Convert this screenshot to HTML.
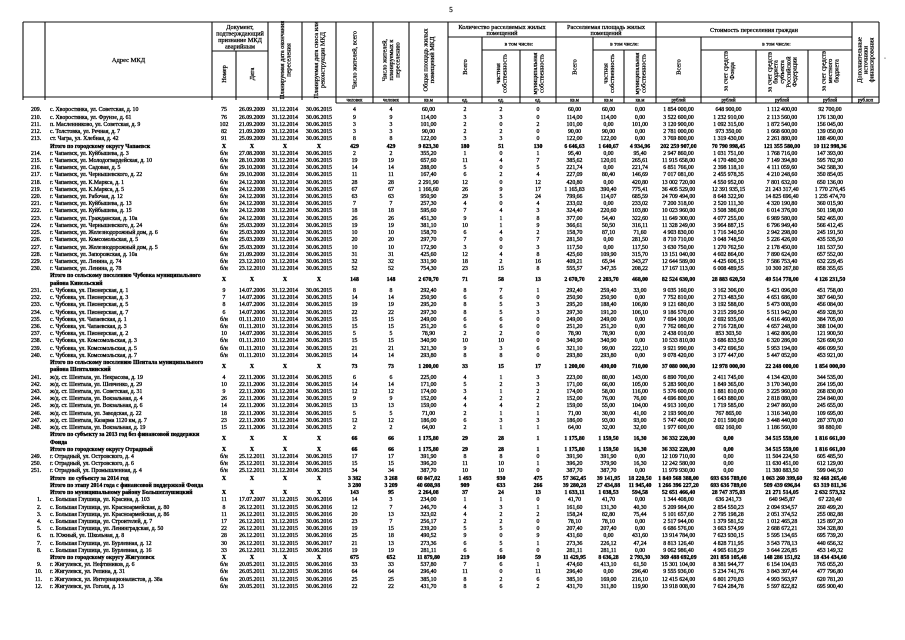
<!DOCTYPE html>
<html><head><meta charset="utf-8">
<style>
html,body{margin:0;padding:0;background:#fff;}
body{width:905px;height:640px;overflow:hidden;position:relative;font-family:"Liberation Serif",serif;color:#000;}
svg{position:absolute;left:0;top:0;}
.r{position:absolute;left:23px;height:7.22px;display:flex;align-items:center;line-height:7.22px;font-size:5.8px;white-space:nowrap;-webkit-text-stroke:0.3px #000;}
.r i{font-style:normal;display:block;flex:none;text-align:center;overflow:visible;}
.r i:nth-child(1){width:22px;text-align:left;padding-left:8px;box-sizing:border-box}
.r i:nth-child(2){width:167px;text-align:left;padding-left:5px;box-sizing:border-box}
.r i:nth-child(3){width:24px}
.r i:nth-child(4){width:32px}
.r i:nth-child(5){width:34px}
.r i:nth-child(6){width:34px}
.r i:nth-child(7){width:37px}
.r i:nth-child(8){width:36px}
.r i:nth-child(9){width:39px}
.r i:nth-child(10){width:34px}
.r i:nth-child(11){width:38px}
.r i:nth-child(12){width:36px}
.r i:nth-child(13){width:37px}
.r i:nth-child(14){width:31px}
.r i:nth-child(15){width:32px}
.r i:nth-child(16){width:45px}
.r i:nth-child(17){width:55px}
.r i:nth-child(18){width:52px}
.r i:nth-child(19){width:44px}
.b{font-weight:bold}
.t2{height:14.44px}
.n2 i:nth-child(1){padding-left:14px}
</style></head><body>
<svg width="905" height="640" viewBox="0 0 905 640" xmlns="http://www.w3.org/2000/svg">
<g stroke="#111" stroke-width="1.1" fill="none">
<line x1="23" y1="22" x2="879" y2="22"/>
<line x1="23" y1="97" x2="879" y2="97"/>
<line x1="336" y1="103" x2="879" y2="103"/>
<line x1="212" y1="51" x2="268" y2="51"/>
<line x1="448" y1="37" x2="852" y2="37"/>
<line x1="482" y1="50" x2="556" y2="50"/>
<line x1="593" y1="50" x2="656" y2="50"/>
<line x1="701" y1="50" x2="852" y2="50"/>
<line x1="23" y1="22" x2="23" y2="100"/>
<line x1="45" y1="22" x2="45" y2="100"/>
<line x1="212" y1="22" x2="212" y2="100"/>
<line x1="236" y1="51" x2="236" y2="100"/>
<line x1="268" y1="22" x2="268" y2="100"/>
<line x1="302" y1="22" x2="302" y2="100"/>
<line x1="336" y1="22" x2="336" y2="103"/>
<line x1="373" y1="22" x2="373" y2="103"/>
<line x1="409" y1="22" x2="409" y2="103"/>
<line x1="448" y1="22" x2="448" y2="103"/>
<line x1="482" y1="37" x2="482" y2="103"/>
<line x1="520" y1="50" x2="520" y2="103"/>
<line x1="556" y1="22" x2="556" y2="103"/>
<line x1="593" y1="37" x2="593" y2="103"/>
<line x1="624" y1="50" x2="624" y2="103"/>
<line x1="656" y1="22" x2="656" y2="103"/>
<line x1="701" y1="37" x2="701" y2="103"/>
<line x1="756" y1="50" x2="756" y2="103"/>
<line x1="808" y1="50" x2="808" y2="103"/>
<line x1="852" y1="22" x2="852" y2="103"/>
<line x1="879" y1="22" x2="879" y2="103"/>
</g>
<g font-family="Liberation Serif, serif" font-size="6.3" fill="#000" text-anchor="middle" stroke="#000" stroke-width="0.25">
<text x="451" y="12" font-size="7">5</text>
<text x="128.5" y="62" font-size="6.5">Адрес МКД</text>
<text x="240" y="29">Документ,</text>
<text x="240" y="35.5">подтверждающий</text>
<text x="240" y="42">признание МКД</text>
<text x="240" y="48.5">аварийным</text>
<text transform="translate(226,74) rotate(-90)">Номер</text>
<text transform="translate(254,74) rotate(-90)">Дата</text>
<text transform="translate(283.75,60) rotate(-90)">Планируемая дата окончания</text>
<text transform="translate(290.25,60) rotate(-90)">переселения</text>
<text transform="translate(317.75,60) rotate(-90)">Планируемая дата сноса или</text>
<text transform="translate(324.25,60) rotate(-90)">реконструкции МКД</text>
<text transform="translate(356.5,60) rotate(-90)">Число жителей, всего</text>
<text transform="translate(386.5,60) rotate(-90)">Число жителей,</text>
<text transform="translate(393,60) rotate(-90)">планируемых к</text>
<text transform="translate(399.5,60) rotate(-90)">переселению</text>
<text transform="translate(427.25,60) rotate(-90)">Общая площадь жилых</text>
<text transform="translate(433.75,60) rotate(-90)">помещений МКД</text>
<text x="502" y="29">Количество расселяемых жилых</text>
<text x="502" y="35">помещений</text>
<text transform="translate(467,67) rotate(-90)">Всего</text>
<text x="519" y="45.5" font-size="5.5">в том числе:</text>
<text transform="translate(499.75,73.5) rotate(-90)">частная</text>
<text transform="translate(506.25,73.5) rotate(-90)">собственность</text>
<text transform="translate(536.75,73.5) rotate(-90)">муниципальная</text>
<text transform="translate(543.25,73.5) rotate(-90)">собственность</text>
<text x="606" y="29">Расселяемая площадь жилых</text>
<text x="606" y="35">помещений</text>
<text transform="translate(576.5,67) rotate(-90)">Всего</text>
<text x="624.5" y="45.5" font-size="5.5">в том числе:</text>
<text transform="translate(607.25,73.5) rotate(-90)">частная</text>
<text transform="translate(613.75,73.5) rotate(-90)">собственность</text>
<text transform="translate(638.75,73.5) rotate(-90)">муниципальная</text>
<text transform="translate(645.25,73.5) rotate(-90)">собственность</text>
<text x="754" y="32">Стоимость переселения граждан</text>
<text transform="translate(680.5,67) rotate(-90)">Всего</text>
<text x="776.5" y="45.5" font-size="5.5">в том числе:</text>
<text transform="translate(727.25,71) rotate(-90)">за счет средств</text>
<text transform="translate(733.75,71) rotate(-90)">Фонда</text>
<text transform="translate(771.4,72) rotate(-90)">за счет средств</text>
<text transform="translate(777.7,72) rotate(-90)">бюджета</text>
<text transform="translate(784,72) rotate(-90)">субъекта</text>
<text transform="translate(790.3,72) rotate(-90)">Российской</text>
<text transform="translate(796.6,72) rotate(-90)">Федерации</text>
<text transform="translate(825.5,71) rotate(-90)">за счет средств</text>
<text transform="translate(832,71) rotate(-90)">местного</text>
<text transform="translate(838.5,71) rotate(-90)">бюджета</text>
<text transform="translate(861.5,60) rotate(-90)">Дополнительные</text>
<text transform="translate(867.5,60) rotate(-90)">источники</text>
<text transform="translate(873.5,60) rotate(-90)">финансирования</text>
<g font-size="4.8">
<text x="354.5" y="101.6">человек</text>
<text x="391" y="101.6">человек</text>
<text x="428.5" y="101.6">кв.м</text>
<text x="465" y="101.6">ед.</text>
<text x="501" y="101.6">ед.</text>
<text x="538" y="101.6">ед.</text>
<text x="574.5" y="101.6">кв.м</text>
<text x="608.5" y="101.6">кв.м</text>
<text x="640" y="101.6">кв.м</text>
<text x="678.5" y="101.6">рублей</text>
<text x="728.5" y="101.6">рублей</text>
<text x="782" y="101.6">рублей</text>
<text x="830" y="101.6">рублей</text>
<text x="865.5" y="101.6">руб.коп</text>
</g>
<text x="885" y="60" font-size="6">·</text>
</g>
</svg>

<div class="r" style="top:107.4px"><i>209.</i><i>с. Хворостянка, ул. Советская, д. 10</i><i>75</i><i>26.09.2009</i><i>31.12.2014</i><i>30.06.2015</i><i>4</i><i>4</i><i>60,00</i><i>2</i><i>2</i><i>0</i><i>60,00</i><i>60,00</i><i>0,00</i><i>1 854 000,00</i><i>648 900,00</i><i>1 112 400,00</i><i>92 700,00</i></div>
<div class="r" style="top:114.62px"><i>210.</i><i>с. Хворостянка, ул. Фрунзе, д. 61</i><i>76</i><i>26.09.2009</i><i>31.12.2014</i><i>30.06.2015</i><i>9</i><i>9</i><i>114,00</i><i>3</i><i>3</i><i>0</i><i>114,00</i><i>114,00</i><i>0,00</i><i>3 522 600,00</i><i>1 232 910,00</i><i>2 113 560,00</i><i>176 130,00</i></div>
<div class="r" style="top:121.84px"><i>211.</i><i>п. Масленниково, ул. Советская, д. 9</i><i>102</i><i>21.09.2009</i><i>31.12.2014</i><i>30.06.2015</i><i>3</i><i>3</i><i>101,00</i><i>2</i><i>0</i><i>2</i><i>101,00</i><i>0,00</i><i>101,00</i><i>3 120 900,00</i><i>1 092 315,00</i><i>1 872 540,00</i><i>156 045,00</i></div>
<div class="r" style="top:129.06px"><i>212.</i><i>с. Толстовка, ул. Речная, д. 7</i><i>82</i><i>21.09.2009</i><i>31.12.2014</i><i>30.06.2015</i><i>3</i><i>3</i><i>90,00</i><i>2</i><i>2</i><i>0</i><i>90,00</i><i>90,00</i><i>0,00</i><i>2 781 000,00</i><i>973 350,00</i><i>1 668 600,00</i><i>139 050,00</i></div>
<div class="r" style="top:136.28px"><i>213.</i><i>ст. Чагра, ул. Хлебная, д. 42</i><i>91</i><i>25.09.2009</i><i>31.12.2014</i><i>30.06.2015</i><i>8</i><i>8</i><i>122,00</i><i>3</i><i>3</i><i>0</i><i>122,00</i><i>122,00</i><i>0,00</i><i>3 769 800,00</i><i>1 319 430,00</i><i>2 261 880,00</i><i>188 490,00</i></div>
<div class="r b" style="top:143.5px"><i></i><i>Итого по городскому округу Чапаевск</i><i>X</i><i>X</i><i>X</i><i>X</i><i>429</i><i>429</i><i>9 823,30</i><i>180</i><i>51</i><i>130</i><i>6 646,63</i><i>1 640,67</i><i>4 934,96</i><i>202 259 907,00</i><i>70 790 998,45</i><i>121 355 580,00</i><i>10 112 998,36</i></div>
<div class="r" style="top:150.72px"><i>214.</i><i>г. Чапаевск, ул. Куйбышева, д. 3</i><i>б/н</i><i>27.08.2008</i><i>31.12.2014</i><i>30.06.2015</i><i>2</i><i>2</i><i>355,20</i><i>1</i><i>0</i><i>1</i><i>95,40</i><i>0,00</i><i>95,40</i><i>2 947 860,00</i><i>1 031 751,00</i><i>1 768 716,00</i><i>147 393,00</i></div>
<div class="r" style="top:157.94px"><i>215.</i><i>г. Чапаевск, ул. Молодогвардейская, д. 10</i><i>б/н</i><i>28.10.2008</i><i>31.12.2014</i><i>30.06.2015</i><i>19</i><i>19</i><i>657,60</i><i>11</i><i>4</i><i>7</i><i>385,62</i><i>120,01</i><i>265,61</i><i>11 915 658,00</i><i>4 170 480,30</i><i>7 149 394,80</i><i>595 782,90</i></div>
<div class="r" style="top:165.16px"><i>216.</i><i>г. Чапаевск, ул. Садовая, д. 5</i><i>б/н</i><i>29.10.2008</i><i>31.12.2014</i><i>30.06.2015</i><i>14</i><i>14</i><i>288,00</i><i>5</i><i>0</i><i>5</i><i>221,74</i><i>0,00</i><i>221,74</i><i>6 851 766,00</i><i>2 398 118,10</i><i>4 111 059,60</i><i>342 588,30</i></div>
<div class="r" style="top:172.38px"><i>217.</i><i>г. Чапаевск, ул. Чернышевского, д. 22</i><i>б/н</i><i>29.10.2008</i><i>31.12.2014</i><i>30.06.2015</i><i>11</i><i>11</i><i>167,40</i><i>6</i><i>2</i><i>4</i><i>227,09</i><i>80,40</i><i>146,69</i><i>7 017 081,00</i><i>2 455 978,35</i><i>4 210 248,60</i><i>350 854,05</i></div>
<div class="r" style="top:179.6px"><i>218.</i><i>г. Чапаевск, ул. К.Маркса, д. 1</i><i>б/н</i><i>24.12.2008</i><i>31.12.2014</i><i>30.06.2015</i><i>28</i><i>28</i><i>2 291,90</i><i>12</i><i>0</i><i>12</i><i>420,80</i><i>0,00</i><i>420,80</i><i>13 002 720,00</i><i>4 550 952,00</i><i>7 801 632,00</i><i>650 136,00</i></div>
<div class="r" style="top:186.82px"><i>219.</i><i>г. Чапаевск, ул. К.Маркса, д. 5</i><i>б/н</i><i>24.12.2008</i><i>31.12.2014</i><i>30.06.2015</i><i>67</i><i>67</i><i>1 166,60</i><i>26</i><i>9</i><i>17</i><i>1 165,83</i><i>390,40</i><i>775,41</i><i>36 405 529,00</i><i>12 391 935,15</i><i>21 243 317,40</i><i>1 770 276,45</i></div>
<div class="r" style="top:194.04px"><i>220.</i><i>г. Чапаевск, ул. Рабочая, д. 12</i><i>б/н</i><i>24.12.2008</i><i>31.12.2014</i><i>30.06.2015</i><i>63</i><i>63</i><i>950,90</i><i>29</i><i>5</i><i>24</i><i>799,66</i><i>114,07</i><i>685,59</i><i>24 709 494,00</i><i>8 648 322,90</i><i>14 825 696,40</i><i>1 235 474,70</i></div>
<div class="r" style="top:201.26px"><i>221.</i><i>г. Чапаевск, ул. Куйбышева, д. 13</i><i>б/н</i><i>24.12.2008</i><i>31.12.2014</i><i>30.06.2015</i><i>7</i><i>7</i><i>257,30</i><i>4</i><i>0</i><i>4</i><i>233,02</i><i>0,00</i><i>233,02</i><i>7 200 318,00</i><i>2 520 111,30</i><i>4 320 190,80</i><i>360 015,90</i></div>
<div class="r" style="top:208.48px"><i>222.</i><i>г. Чапаевск, ул. Куйбышева, д. 15</i><i>б/н</i><i>24.12.2008</i><i>31.12.2014</i><i>30.06.2015</i><i>18</i><i>18</i><i>595,60</i><i>7</i><i>4</i><i>3</i><i>324,40</i><i>220,60</i><i>103,80</i><i>10 023 960,00</i><i>3 508 386,00</i><i>6 014 376,00</i><i>501 198,00</i></div>
<div class="r" style="top:215.7px"><i>223.</i><i>г. Чапаевск, ул. Гражданская, д. 10а</i><i>б/н</i><i>24.12.2008</i><i>31.12.2014</i><i>30.06.2015</i><i>26</i><i>26</i><i>451,30</i><i>9</i><i>1</i><i>8</i><i>377,00</i><i>54,40</i><i>322,60</i><i>11 649 300,00</i><i>4 077 255,00</i><i>6 989 580,00</i><i>582 465,00</i></div>
<div class="r" style="top:222.92px"><i>224.</i><i>г. Чапаевск, ул. Чернышевского, д. 24</i><i>б/н</i><i>25.03.2009</i><i>31.12.2014</i><i>30.06.2015</i><i>19</i><i>19</i><i>381,10</i><i>10</i><i>1</i><i>9</i><i>366,61</i><i>50,50</i><i>316,11</i><i>11 328 249,00</i><i>3 964 887,15</i><i>6 796 949,40</i><i>566 412,45</i></div>
<div class="r" style="top:230.14px"><i>225.</i><i>г. Чапаевск, ул. Железнодорожный дом, д. 6</i><i>б/н</i><i>25.03.2009</i><i>31.12.2014</i><i>30.06.2015</i><i>10</i><i>10</i><i>158,70</i><i>6</i><i>4</i><i>2</i><i>158,70</i><i>87,10</i><i>71,60</i><i>4 903 830,00</i><i>1 716 340,50</i><i>2 942 298,00</i><i>245 191,50</i></div>
<div class="r" style="top:237.36px"><i>226.</i><i>г. Чапаевск, ул. Комсомольская, д. 5</i><i>б/н</i><i>25.03.2009</i><i>31.12.2014</i><i>30.06.2015</i><i>20</i><i>20</i><i>297,70</i><i>7</i><i>0</i><i>7</i><i>281,50</i><i>0,00</i><i>281,50</i><i>8 710 710,00</i><i>3 048 748,50</i><i>5 226 426,00</i><i>435 535,50</i></div>
<div class="r" style="top:244.58px"><i>227.</i><i>г. Чапаевск, ул. Железнодорожный дом, д. 5</i><i>б/н</i><i>25.03.2009</i><i>31.12.2014</i><i>30.06.2015</i><i>10</i><i>10</i><i>172,90</i><i>3</i><i>0</i><i>3</i><i>117,50</i><i>0,00</i><i>117,50</i><i>3 630 750,00</i><i>1 270 762,50</i><i>2 178 450,00</i><i>181 537,50</i></div>
<div class="r" style="top:251.8px"><i>228.</i><i>г. Чапаевск, ул. Запорожская, д. 10а</i><i>б/н</i><i>21.09.2009</i><i>31.12.2014</i><i>30.06.2015</i><i>31</i><i>31</i><i>425,60</i><i>12</i><i>4</i><i>8</i><i>425,60</i><i>109,90</i><i>315,70</i><i>13 151 040,00</i><i>4 602 864,00</i><i>7 890 624,00</i><i>657 552,00</i></div>
<div class="r" style="top:259.02px"><i>229.</i><i>г. Чапаевск, ул. Ленина, д. 74</i><i>б/н</i><i>23.12.2010</i><i>31.12.2014</i><i>30.06.2015</i><i>32</i><i>32</i><i>331,90</i><i>18</i><i>2</i><i>16</i><i>409,21</i><i>65,94</i><i>343,27</i><i>12 644 589,00</i><i>4 425 606,15</i><i>7 586 753,40</i><i>632 229,45</i></div>
<div class="r" style="top:266.24px"><i>230.</i><i>г. Чапаевск, ул. Ленина, д. 78</i><i>б/н</i><i>23.12.2010</i><i>31.12.2014</i><i>30.06.2015</i><i>52</i><i>52</i><i>754,30</i><i>23</i><i>15</i><i>8</i><i>555,57</i><i>347,35</i><i>208,22</i><i>17 167 113,00</i><i>6 008 489,55</i><i>10 300 267,80</i><i>858 355,65</i></div>
<div class="r b t2" style="top:273.46px"><i></i><i>Итого по сельскому поселению Чубовка муниципального<br>района Кинельский</i><i>X</i><i>X</i><i>X</i><i>X</i><i>148</i><i>148</i><i>2 670,70</i><i>71</i><i>58</i><i>13</i><i>2 670,70</i><i>2 203,70</i><i>468,00</i><i>82 524 630,00</i><i>28 883 620,50</i><i>49 514 778,00</i><i>4 126 231,50</i></div>
<div class="r" style="top:287.9px"><i>231.</i><i>с. Чубовка, ул. Пионерская, д. 1</i><i>9</i><i>14.07.2006</i><i>31.12.2014</i><i>30.06.2015</i><i>8</i><i>8</i><i>292,40</i><i>8</i><i>7</i><i>1</i><i>292,40</i><i>259,40</i><i>33,00</i><i>9 035 160,00</i><i>3 162 306,00</i><i>5 421 096,00</i><i>451 758,00</i></div>
<div class="r" style="top:295.12px"><i>232.</i><i>с. Чубовка, ул. Пионерская, д. 3</i><i>7</i><i>14.07.2006</i><i>31.12.2014</i><i>30.06.2015</i><i>14</i><i>14</i><i>250,90</i><i>6</i><i>6</i><i>0</i><i>250,90</i><i>250,90</i><i>0,00</i><i>7 752 810,00</i><i>2 713 483,50</i><i>4 651 686,00</i><i>387 640,50</i></div>
<div class="r" style="top:302.34px"><i>233.</i><i>с. Чубовка, ул. Пионерская, д. 5</i><i>8</i><i>14.07.2006</i><i>31.12.2014</i><i>30.06.2015</i><i>19</i><i>19</i><i>295,20</i><i>8</i><i>5</i><i>3</i><i>295,20</i><i>188,40</i><i>106,80</i><i>9 121 680,00</i><i>3 192 588,00</i><i>5 473 008,00</i><i>456 084,00</i></div>
<div class="r" style="top:309.56px"><i>234.</i><i>с. Чубовка, ул. Пионерская, д. 7</i><i>6</i><i>14.07.2006</i><i>31.12.2014</i><i>30.06.2015</i><i>22</i><i>22</i><i>297,30</i><i>8</i><i>5</i><i>3</i><i>297,30</i><i>191,20</i><i>106,10</i><i>9 186 570,00</i><i>3 215 299,50</i><i>5 511 942,00</i><i>459 328,50</i></div>
<div class="r" style="top:316.78px"><i>235.</i><i>с. Чубовка, ул. Чапаевская, д. 1</i><i>б/н</i><i>01.11.2010</i><i>31.12.2014</i><i>30.06.2015</i><i>15</i><i>15</i><i>249,00</i><i>6</i><i>6</i><i>0</i><i>249,00</i><i>249,00</i><i>0,00</i><i>7 694 100,00</i><i>2 692 935,00</i><i>4 616 460,00</i><i>384 705,00</i></div>
<div class="r" style="top:324px"><i>236.</i><i>с. Чубовка, ул. Чапаевская, д. 3</i><i>б/н</i><i>01.11.2010</i><i>31.12.2014</i><i>30.06.2015</i><i>15</i><i>15</i><i>251,20</i><i>6</i><i>6</i><i>0</i><i>251,20</i><i>251,20</i><i>0,00</i><i>7 762 080,00</i><i>2 716 728,00</i><i>4 657 248,00</i><i>388 104,00</i></div>
<div class="r" style="top:331.22px"><i>237.</i><i>с. Чубовка, ул. Пионерская, д. 2</i><i>10</i><i>14.07.2006</i><i>31.12.2014</i><i>30.06.2015</i><i>5</i><i>5</i><i>78,90</i><i>2</i><i>2</i><i>0</i><i>78,90</i><i>78,90</i><i>0,00</i><i>2 438 010,00</i><i>853 303,50</i><i>1 462 806,00</i><i>121 900,50</i></div>
<div class="r" style="top:338.44px"><i>238.</i><i>с. Чубовка, ул. Комсомольская, д. 3</i><i>б/н</i><i>01.11.2010</i><i>31.12.2014</i><i>30.06.2015</i><i>15</i><i>15</i><i>340,90</i><i>10</i><i>10</i><i>0</i><i>340,90</i><i>340,90</i><i>0,00</i><i>10 533 810,00</i><i>3 686 833,50</i><i>6 320 286,00</i><i>526 690,50</i></div>
<div class="r" style="top:345.66px"><i>239.</i><i>с. Чубовка, ул. Комсомольская, д. 5</i><i>б/н</i><i>01.11.2010</i><i>31.12.2014</i><i>30.06.2015</i><i>21</i><i>21</i><i>321,30</i><i>9</i><i>3</i><i>6</i><i>321,10</i><i>99,00</i><i>222,10</i><i>9 921 990,00</i><i>3 472 696,50</i><i>5 953 194,00</i><i>496 099,50</i></div>
<div class="r" style="top:352.88px"><i>240.</i><i>с. Чубовка, ул. Комсомольская, д. 7</i><i>б/н</i><i>01.11.2010</i><i>31.12.2014</i><i>30.06.2015</i><i>14</i><i>14</i><i>293,80</i><i>8</i><i>8</i><i>0</i><i>293,80</i><i>293,80</i><i>0,00</i><i>9 078 420,00</i><i>3 177 447,00</i><i>5 447 052,00</i><i>453 921,00</i></div>
<div class="r b t2" style="top:360.1px"><i></i><i>Итого по сельскому поселению Шентала муниципального<br>района Шенталинский</i><i>X</i><i>X</i><i>X</i><i>X</i><i>73</i><i>73</i><i>1 200,00</i><i>33</i><i>15</i><i>17</i><i>1 200,00</i><i>490,00</i><i>710,00</i><i>37 080 000,00</i><i>12 978 000,00</i><i>22 248 000,00</i><i>1 854 000,00</i></div>
<div class="r" style="top:374.54px"><i>241.</i><i>ж/д. ст. Шентала, ул. Некрасова, д. 19</i><i>4</i><i>22.11.2006</i><i>31.12.2014</i><i>30.06.2015</i><i>6</i><i>6</i><i>225,00</i><i>4</i><i>1</i><i>3</i><i>223,00</i><i>80,00</i><i>143,00</i><i>6 890 700,00</i><i>2 411 745,00</i><i>4 134 420,00</i><i>344 535,00</i></div>
<div class="r" style="top:381.76px"><i>242.</i><i>ж/д. ст. Шентала, ул. Шевченко, д. 29</i><i>10</i><i>22.11.2006</i><i>31.12.2014</i><i>30.06.2015</i><i>14</i><i>14</i><i>171,00</i><i>5</i><i>2</i><i>3</i><i>171,00</i><i>66,00</i><i>105,00</i><i>5 283 900,00</i><i>1 849 365,00</i><i>3 170 340,00</i><i>264 195,00</i></div>
<div class="r" style="top:388.98px"><i>243.</i><i>ж/д. ст. Шентала, ул. Советская, д. 31</i><i>9</i><i>22.11.2006</i><i>31.12.2014</i><i>30.06.2015</i><i>12</i><i>12</i><i>174,00</i><i>3</i><i>1</i><i>2</i><i>174,00</i><i>58,00</i><i>116,00</i><i>5 376 600,00</i><i>1 881 810,00</i><i>3 225 960,00</i><i>268 830,00</i></div>
<div class="r" style="top:396.2px"><i>244.</i><i>ж/д. ст. Шентала, ул. Вокзальная, д. 4</i><i>26</i><i>22.11.2006</i><i>31.12.2014</i><i>30.06.2015</i><i>9</i><i>9</i><i>152,00</i><i>4</i><i>2</i><i>2</i><i>152,00</i><i>76,00</i><i>76,00</i><i>4 696 800,00</i><i>1 643 880,00</i><i>2 818 080,00</i><i>234 840,00</i></div>
<div class="r" style="top:403.42px"><i>245.</i><i>ж/д. ст. Шентала, ул. Вокзальная, д. 6</i><i>14</i><i>22.11.2006</i><i>31.12.2014</i><i>30.06.2015</i><i>13</i><i>13</i><i>159,00</i><i>4</i><i>4</i><i>2</i><i>159,00</i><i>55,00</i><i>104,00</i><i>4 913 100,00</i><i>1 719 585,00</i><i>2 947 860,00</i><i>245 655,00</i></div>
<div class="r" style="top:410.64px"><i>246.</i><i>ж/д. ст. Шентала, ул. Заводская, д. 22</i><i>18</i><i>22.11.2006</i><i>31.12.2014</i><i>30.06.2015</i><i>5</i><i>5</i><i>71,00</i><i>2</i><i>1</i><i>1</i><i>71,00</i><i>30,00</i><i>41,00</i><i>2 193 900,00</i><i>767 865,00</i><i>1 316 340,00</i><i>109 695,00</i></div>
<div class="r" style="top:417.86px"><i>247.</i><i>ж/д. ст. Шентала, Казарма 1120 км, д. 7</i><i>23</i><i>22.11.2006</i><i>31.12.2014</i><i>30.06.2015</i><i>12</i><i>12</i><i>186,00</i><i>6</i><i>3</i><i>3</i><i>186,00</i><i>93,00</i><i>93,00</i><i>5 747 400,00</i><i>2 011 590,00</i><i>3 448 440,00</i><i>287 370,00</i></div>
<div class="r" style="top:425.08px"><i>248.</i><i>ж/д. ст. Шентала, ул. Вокзальная, д. 19</i><i>15</i><i>22.11.2006</i><i>31.12.2014</i><i>30.06.2015</i><i>2</i><i>2</i><i>64,00</i><i>2</i><i>1</i><i>1</i><i>64,00</i><i>32,00</i><i>32,00</i><i>1 977 600,00</i><i>692 160,00</i><i>1 186 560,00</i><i>98 880,00</i></div>
<div class="r b t2" style="top:432.3px"><i></i><i>Итого по субъекту за 2013 год без финансовой поддержки<br>Фонда</i><i>X</i><i>X</i><i>X</i><i>X</i><i>66</i><i>66</i><i>1 175,80</i><i>29</i><i>28</i><i>1</i><i>1 175,80</i><i>1 159,50</i><i>16,30</i><i>36 332 220,00</i><i>0,00</i><i>34 515 559,00</i><i>1 816 661,00</i></div>
<div class="r b" style="top:446.74px"><i></i><i>Итого по городскому округу Отрадный</i><i>X</i><i>X</i><i>X</i><i>X</i><i>66</i><i>66</i><i>1 175,80</i><i>29</i><i>28</i><i>1</i><i>1 175,80</i><i>1 159,50</i><i>16,30</i><i>36 332 220,00</i><i>0,00</i><i>34 515 559,00</i><i>1 816 661,00</i></div>
<div class="r" style="top:453.96px"><i>249.</i><i>г. Отрадный, ул. Островского, д. 4</i><i>б/н</i><i>25.12.2011</i><i>31.12.2014</i><i>30.06.2015</i><i>17</i><i>17</i><i>391,90</i><i>8</i><i>8</i><i>0</i><i>391,90</i><i>391,90</i><i>0,00</i><i>12 109 710,00</i><i>0,00</i><i>11 504 224,50</i><i>605 485,50</i></div>
<div class="r" style="top:461.18px"><i>250.</i><i>г. Отрадный, ул. Островского, д. 6</i><i>б/н</i><i>25.12.2011</i><i>31.12.2014</i><i>30.06.2015</i><i>15</i><i>15</i><i>396,20</i><i>11</i><i>10</i><i>1</i><i>396,20</i><i>379,90</i><i>16,30</i><i>12 242 580,00</i><i>0,00</i><i>11 630 451,00</i><i>612 129,00</i></div>
<div class="r" style="top:468.4px"><i>251.</i><i>г. Отрадный, ул. Промышленная, д. 4</i><i>б/н</i><i>25.12.2011</i><i>31.12.2014</i><i>30.06.2015</i><i>34</i><i>34</i><i>387,70</i><i>10</i><i>10</i><i>0</i><i>387,70</i><i>387,70</i><i>0,00</i><i>11 979 930,00</i><i>0,00</i><i>11 380 883,50</i><i>599 046,50</i></div>
<div class="r b" style="top:475.62px"><i></i><i>Итого&nbsp; по субъекту за 2014 год</i><i>X</i><i>X</i><i>X</i><i>X</i><i>3 382</i><i>3 268</i><i>60 847,02</i><i>1 493</i><i>930</i><i>475</i><i>57 362,45</i><i>39 141,95</i><i>18 220,50</i><i>1 849 568 388,00</i><i>693 636 789,00</i><i>1 063 260 399,60</i><i>92 468 265,40</i></div>
<div class="r b" style="top:482.84px"><i></i><i>Итого по этапу 2014 года с финансовой поддержкой Фонда</i><i></i><i></i><i></i><i></i><i>3 280</i><i>3 209</i><i>40 608,98</i><i>909</i><i>633</i><i>266</i><i>39 280,28</i><i>27 434,88</i><i>11 945,40</i><i>1 266 396 227,20</i><i>693 636 789,00</i><i>509 439 696,84</i><i>63 319 811,36</i></div>
<div class="r b" style="top:490.06px"><i></i><i>Итого по муниципальному району Большеглушицкий</i><i>X</i><i>X</i><i>X</i><i>X</i><i>143</i><i>95</i><i>2 264,08</i><i>37</i><i>24</i><i>13</i><i>1 633,11</i><i>1 038,53</i><i>594,58</i><i>52 651 466,40</i><i>28 747 375,03</i><i>21 271 514,05</i><i>2 632 573,32</i></div>
<div class="r n2" style="top:497.28px"><i>1.</i><i>с. Большая Глушица, ул. Красина, д. 103</i><i>11</i><i>17.07.2007</i><i>31.12.2015</i><i>30.06.2016</i><i>14</i><i>3</i><i>234,00</i><i>1</i><i>1</i><i>0</i><i>41,70</i><i>41,70</i><i>0,00</i><i>1 344 408,00</i><i>636 241,73</i><i>640 945,87</i><i>67 220,40</i></div>
<div class="r n2" style="top:504.5px"><i>2.</i><i>с. Большая Глушица, ул. Красноармейская, д. 80</i><i>8</i><i>26.12.2011</i><i>31.12.2015</i><i>30.06.2016</i><i>12</i><i>7</i><i>246,70</i><i>4</i><i>3</i><i>1</i><i>161,60</i><i>131,30</i><i>40,30</i><i>5 209 984,00</i><i>2 854 550,23</i><i>2 094 934,57</i><i>260 499,20</i></div>
<div class="r n2" style="top:511.72px"><i>3.</i><i>с. Большая Глушица, ул. Красноармейская, д. 86</i><i>11</i><i>26.12.2011</i><i>31.12.2015</i><i>30.06.2016</i><i>20</i><i>13</i><i>323,02</i><i>4</i><i>2</i><i>2</i><i>158,24</i><i>82,80</i><i>75,44</i><i>5 101 657,60</i><i>2 795 198,28</i><i>2 051 374,52</i><i>255 082,88</i></div>
<div class="r n2" style="top:518.94px"><i>4.</i><i>с. Большая Глушица, ул. Строителей, д. 7</i><i>17</i><i>26.12.2011</i><i>31.12.2015</i><i>30.06.2016</i><i>23</i><i>7</i><i>256,17</i><i>2</i><i>2</i><i>0</i><i>78,10</i><i>78,10</i><i>0,00</i><i>2 517 944,00</i><i>1 379 581,52</i><i>1 012 465,28</i><i>125 897,20</i></div>
<div class="r n2" style="top:526.16px"><i>5.</i><i>с. Большая Глушица, ул. Ленинградская, д. 50</i><i>22</i><i>26.12.2011</i><i>31.12.2015</i><i>30.06.2016</i><i>19</i><i>15</i><i>239,20</i><i>5</i><i>5</i><i>0</i><i>207,40</i><i>207,40</i><i>0,00</i><i>6 686 576,00</i><i>3 663 574,99</i><i>2 688 672,21</i><i>334 328,80</i></div>
<div class="r n2" style="top:533.38px"><i>6.</i><i>п. Южный, ул. Школьная, д. 8</i><i>28</i><i>26.12.2011</i><i>31.12.2015</i><i>30.06.2016</i><i>25</i><i>18</i><i>490,52</i><i>9</i><i>0</i><i>9</i><i>431,60</i><i>0,00</i><i>431,60</i><i>13 914 784,00</i><i>7 623 930,15</i><i>5 595 134,65</i><i>695 739,20</i></div>
<div class="r n2" style="top:540.6px"><i>7.</i><i>с. Большая Глушица, ул. Бурлевная, д. 12</i><i>30</i><i>26.12.2011</i><i>31.12.2015</i><i>30.06.2017</i><i>21</i><i>13</i><i>273,36</i><i>6</i><i>5</i><i>1</i><i>273,36</i><i>226,12</i><i>47,24</i><i>8 813 126,40</i><i>4 828 711,95</i><i>3 543 778,13</i><i>440 656,32</i></div>
<div class="r n2" style="top:547.82px"><i>8.</i><i>с. Большая Глушица, ул. Бурлевная, д. 16</i><i>33</i><i>26.12.2011</i><i>31.12.2015</i><i>30.06.2016</i><i>19</i><i>19</i><i>281,11</i><i>6</i><i>6</i><i>0</i><i>281,11</i><i>281,11</i><i>0,00</i><i>9 062 986,40</i><i>4 965 618,29</i><i>3 644 226,85</i><i>453 149,32</i></div>
<div class="r b" style="top:555.04px"><i></i><i>Итого по городскому округу Жигулевск</i><i>X</i><i>X</i><i>X</i><i>X</i><i>675</i><i>652</i><i>11 879,80</i><i>219</i><i>160</i><i>59</i><i>11 429,95</i><i>8 636,28</i><i>2 793,30</i><i>369 488 692,09</i><i>201 858 105,48</i><i>148 286 151,92</i><i>18 434 434,60</i></div>
<div class="r n2" style="top:562.26px"><i>9.</i><i>г. Жигулевск, ул. Нефтяников, д. 6</i><i>б/н</i><i>20.05.2011</i><i>31.12.2015</i><i>30.06.2016</i><i>33</i><i>33</i><i>537,80</i><i>7</i><i>6</i><i>1</i><i>474,60</i><i>413,10</i><i>61,50</i><i>15 301 104,00</i><i>8 381 944,77</i><i>6 154 104,03</i><i>765 055,20</i></div>
<div class="r" style="top:569.48px"><i style="padding-left:12px">10.</i><i>г. Жигулевск, ул. Репина, д. 31</i><i>б/н</i><i>26.05.2011</i><i>31.12.2015</i><i>30.06.2016</i><i>64</i><i>64</i><i>296,40</i><i>11</i><i>0</i><i>11</i><i>296,40</i><i>0,00</i><i>296,40</i><i>9 555 936,00</i><i>5 234 741,76</i><i>3 843 397,44</i><i>477 796,80</i></div>
<div class="r" style="top:576.7px"><i style="padding-left:12px">11.</i><i>г. Жигулевск, ул. Интернационалистов, д. 38а</i><i>б/н</i><i>20.05.2011</i><i>31.12.2015</i><i>30.06.2016</i><i>25</i><i>25</i><i>385,10</i><i>8</i><i>2</i><i>6</i><i>385,10</i><i>169,00</i><i>216,10</i><i>12 415 624,00</i><i>6 801 270,83</i><i>4 993 563,97</i><i>620 781,20</i></div>
<div class="r" style="top:583.92px"><i style="padding-left:12px">12.</i><i>г. Жигулевск, ул. Гоголя, д. 13</i><i>б/н</i><i>20.05.2011</i><i>31.12.2015</i><i>30.06.2016</i><i>22</i><i>22</i><i>431,70</i><i>8</i><i>6</i><i>2</i><i>431,70</i><i>311,80</i><i>119,90</i><i>13 918 008,00</i><i>7 624 284,78</i><i>5 597 822,82</i><i>695 900,40</i></div>
</body></html>
